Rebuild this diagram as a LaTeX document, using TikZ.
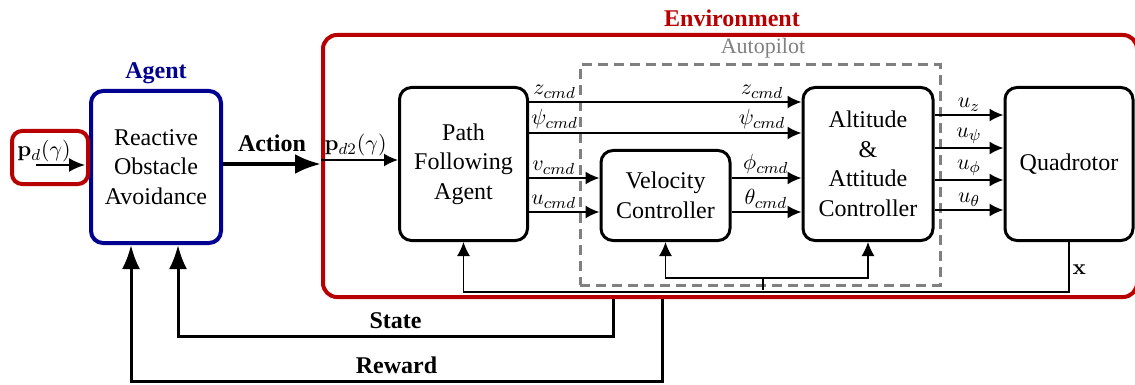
\documentclass[tikz,border=0pt]{standalone}
\usepackage{amsmath,amssymb,bm}
\usepackage[no-math]{fontspec}
\setmainfont{Liberation Serif}
\usepackage{xcolor}
\usepackage{tikz}
\usetikzlibrary{positioning,arrows.meta,calc}
\definecolor{envred}{RGB}{185,0,0}
\definecolor{agblue}{RGB}{0,0,145}

\begin{document}
\begin{tikzpicture}[x=0.5pt,y=-0.5pt,
        blk/.style={draw,line width=1.5pt,rounded corners=6pt,fill=white,
                    align=center,inner sep=0pt,
                    font=\fontsize{12}{14.75}\selectfont},
        sig/.style={line width=0.9pt,-{Latex[length=7pt,width=6.5pt]}},
        fbk/.style={line width=0.7pt,-{Latex[length=7pt,width=6.5pt]}},
        big/.style={line width=1.5pt,-{Latex[length=12pt,width=9pt]}},
        lbl/.style={font=\fontsize{11}{12}\selectfont,inner sep=1.5pt},
        ttl/.style={font=\fontsize{12}{14}\selectfont\bfseries}]
  \useasboundingbox (0,0) rectangle (1135,385);
  % outer frames
  \node[draw=envred,line width=2pt,rounded corners=7pt,minimum width=407pt,
        minimum height=131pt] (env) at (730,166) {};
  \node[draw=gray,line width=1.5pt,dash pattern=on 5pt off 3pt,
        minimum width=180pt,minimum height=110pt] (ap) at (760,175) {};
  \node[ttl,text=envred] at (732,18) {Environment};
  \node[font=\fontsize{11}{13}\selectfont,text=gray] at (763,48) {Autopilot};
  \node[ttl,text=agblue] at (156,73) {Agent};
  % blocks
  \node[blk,draw=agblue,line width=2pt,minimum width=65pt,minimum height=76pt]
    (agent) at (156,167) {Reactive\\Obstacle\\Avoidance};
  \node[draw=envred,line width=2pt,rounded corners=5pt,minimum width=38pt,
        minimum height=26.5pt] (pd) at (50,157.5) {};
  \node[blk,minimum width=64pt,minimum height=76.5pt]
    (path) at (463.5,164) {Path\\Following\\Agent};
  \node[blk,minimum width=64.5pt,minimum height=45pt]
    (vel) at (665.5,195.5) {Velocity\\Controller};
  \node[blk,minimum width=65pt,minimum height=76.5pt]
    (att) at (868,164) {Altitude\\\&\\Attitude\\Controller};
  \node[blk,minimum width=64pt,minimum height=76.5pt]
    (quad) at (1069,164) {Quadrotor};
  % reference input
  \node[lbl] at ($(pd.center)+(-6,-6)$) {$\mathbf{p}_d(\gamma)$};
  \draw[line width=1pt,-{Latex[length=8pt,width=7pt]}]
    ($(pd.center)+(-14,7.5)$) -- ($(pd.center)+(35,7.5)$);
  \draw[line width=2pt,-{Latex[length=13pt,width=10pt]}]
    (agent.east |- 0,164) -- node[ttl,above=2pt]{Action} (env.west |- 0,164);
  \draw[sig] (env.west |- 0,160)
    -- node[lbl,above,pos=0.45]{$\mathbf{p}_{d2}(\gamma)$} (path.west |- 0,160);
  % command signals
  \foreach \yy/\nm in {102/z,133/\psi}
    \draw[sig] (path.east |- 0,\yy)
      -- node[lbl,above,pos=0.094]{$\nm_{cmd}$}
         node[lbl,above,pos=0.855]{$\nm_{cmd}$} (att.west |- 0,\yy);
  \foreach \yy/\nm in {178/v,212/u}
    \draw[sig] (path.east |- 0,\yy)
      -- node[lbl,above,pos=0.35]{$\nm_{cmd}$} (vel.west |- 0,\yy);
  \foreach \yy/\nm in {178/\phi,212/\theta}
    \draw[sig] (vel.east |- 0,\yy)
      -- node[lbl,above,pos=0.49]{$\nm_{cmd}$} (att.west |- 0,\yy);
  \foreach \yy/\nm in {115/z,148/\psi,180/\phi,210/\theta}
    \draw[sig] (att.east |- 0,\yy)
      -- node[lbl,above,pos=0.5]{$u_{\nm}$} (quad.west |- 0,\yy);
  % state feedback
  \coordinate (br) at (763,290);
  \coordinate (bu) at (763,278);
  \draw[fbk] (quad.south) -- node[lbl,right,pos=0.55]{$\mathbf{x}$} ++(0,50)
    -| (path.south);
  \draw[line width=0.7pt] (br) -- (bu);
  \draw[fbk] (bu) -| (vel.south);
  \draw[fbk] (bu) -| (att.south);
  % learning signals
  \draw[big] (env.south -| 613,0) -- (613,336)
    -| node[ttl,above=-0.5pt,pos=0.25]{State} (agent.south -| 178,0);
  \draw[big] (env.south -| 662,0) -- (662,381)
    -| node[ttl,above=-0.5pt,pos=0.25]{Reward} (agent.south -| 131,0);
\end{tikzpicture}
\end{document}
